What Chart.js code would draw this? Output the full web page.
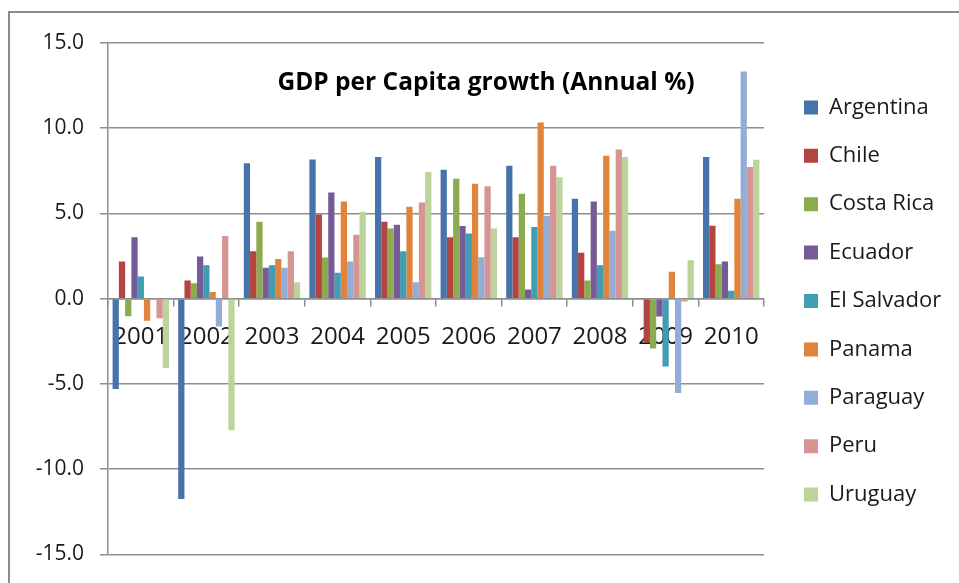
<!DOCTYPE html>
<html>
<head>
<meta charset="utf-8">
<title>GDP per Capita growth</title>
<script src="https://cdn.jsdelivr.net/npm/chart.js@4.4.1/dist/chart.umd.min.js"></script>
<style>
  html, body { margin: 0; padding: 0; background: #fff; overflow: hidden; }
  .wrap { position: relative; width: 959px; height: 583px; overflow: hidden; }
  .frame {
    position: absolute; left: 8px; top: 11px; width: 2000px; height: 2000px;
    border: 2px solid #8c8c8c; box-sizing: border-box;
  }
  canvas { position: absolute; left: 0; top: 0; }
</style>
</head>
<body>
<div class="wrap">
  <div class="frame"></div>
  <canvas id="gdpChart" width="959" height="583"></canvas>
</div>
<script>
// GDP per capita growth, annual %, by country
const years = ['2001', '2002', '2003', '2004', '2005', '2006', '2007', '2008', '2009', '2010'];

const argentina  = [-5.30, -11.75, 7.94, 8.17, 8.31, 7.57, 7.80, 5.86, 0.00, 8.31];
const chile      = [2.18, 1.07, 2.78, 4.94, 4.51, 3.60, 3.60, 2.70, -2.57, 4.28];
const costaRica  = [-1.03, 0.91, 4.51, 2.41, 4.12, 7.04, 6.15, 1.07, -2.92, 2.02];
const ecuador    = [3.60, 2.47, 1.81, 6.23, 4.34, 4.26, 0.54, 5.70, -1.05, 2.18];
const elSalvador = [1.30, 1.96, 1.96, 1.52, 2.78, 3.83, 4.20, 1.96, -3.97, 0.47];
const panama     = [-1.30, 0.39, 2.33, 5.70, 5.39, 6.75, 10.33, 8.39, 1.58, 5.86];
const paraguay   = [0.00, -1.63, 1.81, 2.18, 0.97, 2.43, 4.86, 3.99, -5.53, 13.33];
const peru       = [-1.15, 3.68, 2.78, 3.75, 5.64, 6.60, 7.80, 8.75, -0.16, 7.72];
const uruguay    = [-4.07, -7.72, 0.97, 5.10, 7.43, 4.12, 7.12, 8.31, 2.26, 8.15];

const yTicks = [-15, -10, -5, 0, 5, 10, 15];

const series = [
  { label: 'Argentina',   data: argentina,  color: '#4673aa' },
  { label: 'Chile',       data: chile,      color: '#b3443f' },
  { label: 'Costa Rica',  data: costaRica,  color: '#8caa4e' },
  { label: 'Ecuador',     data: ecuador,    color: '#755b97' },
  { label: 'El Salvador', data: elSalvador, color: '#409db4' },
  { label: 'Panama',      data: panama,     color: '#e0843c' },
  { label: 'Paraguay',    data: paraguay,   color: '#94add6' },
  { label: 'Peru',        data: peru,       color: '#d69493' },
  { label: 'Uruguay',     data: uruguay,    color: '#bcd49b' }
];

const FONT = "'Open Sans', 'Liberation Sans', sans-serif";
const TEXT = '#1a1a1a';
const GRID = '#8e8e8e';
const LEGEND_GAP = 13.6;

// title sits inside the plot area, so it is painted by hand
const overlayTitle = {
  id: 'overlayTitle',
  afterDraw(chart) {
    const { ctx, chartArea } = chart;
    ctx.save();
    ctx.font = 'bold 24.5px ' + FONT;
    ctx.fillStyle = '#000';
    ctx.textAlign = 'center';
    ctx.textBaseline = 'middle';
    ctx.fillText('GDP per Capita growth (Annual %)', chartArea.left + 378, chartArea.top + 40);
    ctx.restore();
  }
};

// push the legend a little away from the plot area and let it run to the edge
const legendGap = {
  id: 'legendGap',
  afterLayout(chart) {
    const lg = chart.legend;
    if (!lg) return;
    lg.left += LEGEND_GAP;
    lg.right = chart.width;
    lg.width = lg.right - lg.left;
  }
};

new Chart(document.getElementById('gdpChart'), {
  type: 'bar',
  data: {
    labels: years,
    datasets: series.map(s => ({
      label: s.label,
      data: s.data,
      backgroundColor: s.color,
      borderWidth: 0,
      categoryPercentage: 0.86,
      barPercentage: 1.0
    }))
  },
  options: {
    responsive: false,
    animation: false,
    layout: { padding: { top: 43, bottom: 24, left: 0, right: 30 } },
    plugins: {
      tooltip: { enabled: false },
      legend: {
        position: 'right',
        maxWidth: 165,
        labels: {
          boxWidth: 14,
          boxHeight: 14,
          padding: 26.4,
          color: TEXT,
          font: { family: FONT, size: 22 }
        }
      }
    },
    scales: {
      x: {
        position: { y: 0 },
        z: 1,
        offset: true,
        grid: {
          offset: true,
          drawOnChartArea: false,
          drawTicks: true,
          tickLength: 7,
          color: GRID,
          lineWidth: 1.5
        },
        border: { display: true, color: GRID, width: 1.5 },
        ticks: {
          color: TEXT,
          padding: 17,
          maxRotation: 0,
          font: { family: FONT, size: 24 }
        }
      },
      y: {
        min: -15,
        max: 15,
        afterBuildTicks(scale) {
          scale.ticks = yTicks.map(v => ({ value: v }));
        },
        afterFit(scale) {
          scale.width = 108;
        },
        grid: {
          color: GRID,
          lineWidth: 1.5,
          drawTicks: true,
          tickLength: 8
        },
        border: { display: true, color: GRID, width: 1.5 },
        ticks: {
          color: TEXT,
          padding: 16,
          font: { family: FONT, size: 21 },
          callback: v => v.toFixed(1)
        }
      }
    }
  },
  plugins: [overlayTitle, legendGap]
});
</script>
</body>
</html>
